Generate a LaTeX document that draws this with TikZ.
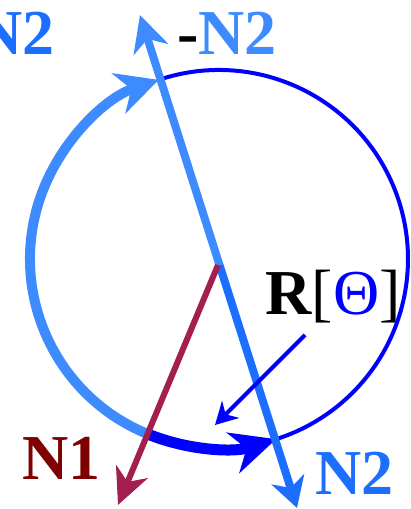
\documentclass[tikz,border=0pt]{standalone}
\usepackage{fontspec}
\setmainfont{Liberation Serif}
\usetikzlibrary{arrows.meta,calc}
\definecolor{lblue}{HTML}{3E8BFF}
\definecolor{dblue}{HTML}{1C6EFF}
\definecolor{pureblue}{HTML}{0000FF}
\definecolor{crim}{HTML}{A31F4F}
\definecolor{maroonred}{HTML}{7F0000}
\begin{document}
\begin{tikzpicture}[x=1pt,y=1pt,
  lbl/.style={inner sep=0pt, font=\fontsize{64}{64}\selectfont\bfseries},
  thinarc/.style={draw=pureblue, line width=4pt},
  thickarc/.style={line width=10pt},
  axis/.style={line width=8pt}]
\useasboundingbox (0,0) rectangle (411,509);
\coordinate (c) at (219,250);
\coordinate (top) at (140,494);
\coordinate (bot) at (297,1);
\coordinate (mid) at (219.5,244);
\coordinate (n1start) at (218,244);
\coordinate (n1tip) at (118,4);
\coordinate (pA) at ($(c)+(108.6:189)$);
\coordinate (pB) at ($(c)+(247.7:189)$);
\coordinate (rstart) at (305,174);
\coordinate (rtip) at (215,84);
% circle arcs
\draw[thinarc] (pA) arc[start angle=108.6, end angle=-72.4, radius=189];
\draw[thickarc, draw=lblue, -{Stealth[length=42pt,width=42pt,inset=13pt]}]
  (pB) arc[start angle=247.7, end angle=108.6, radius=189];
\draw[line width=11pt, draw=pureblue, -{Stealth[length=45pt,width=42pt,inset=14pt]}]
  (pB) arc[start angle=247.7, end angle=287.6, radius=189];
% axis lines
\draw[axis, draw=lblue, -{Stealth[length=36pt,width=36pt,inset=11pt]}] (mid) -- (top);
\draw[axis, draw=dblue, -{Stealth[length=30pt,width=34pt,inset=9pt]}] (mid) -- (bot);
\draw[line width=6pt, draw=crim, -{Stealth[length=36pt,width=34pt,inset=11pt]}] (n1start) -- (n1tip);
\draw[line width=4pt, draw=pureblue, -{Stealth[length=22pt,width=24pt,inset=7pt]}] (rstart) -- (rtip);
% labels
\node[lbl, anchor=base west] (lminus) at (177,454) {-\textcolor{lblue}{N2}};
\node[lbl, anchor=base east, text=dblue] (ltl) at (55,454) {N2};
\node[lbl, anchor=base east, text=maroonred] (ln1) at (101,29) {N1};
\node[lbl, anchor=base west, text=dblue] (lbot) at (315,14) {N2};
\node[lbl, anchor=base west] (lr) at (265,194) {R\textmd{[\textcolor{pureblue}{Θ}]}};
\end{tikzpicture}
\end{document}
